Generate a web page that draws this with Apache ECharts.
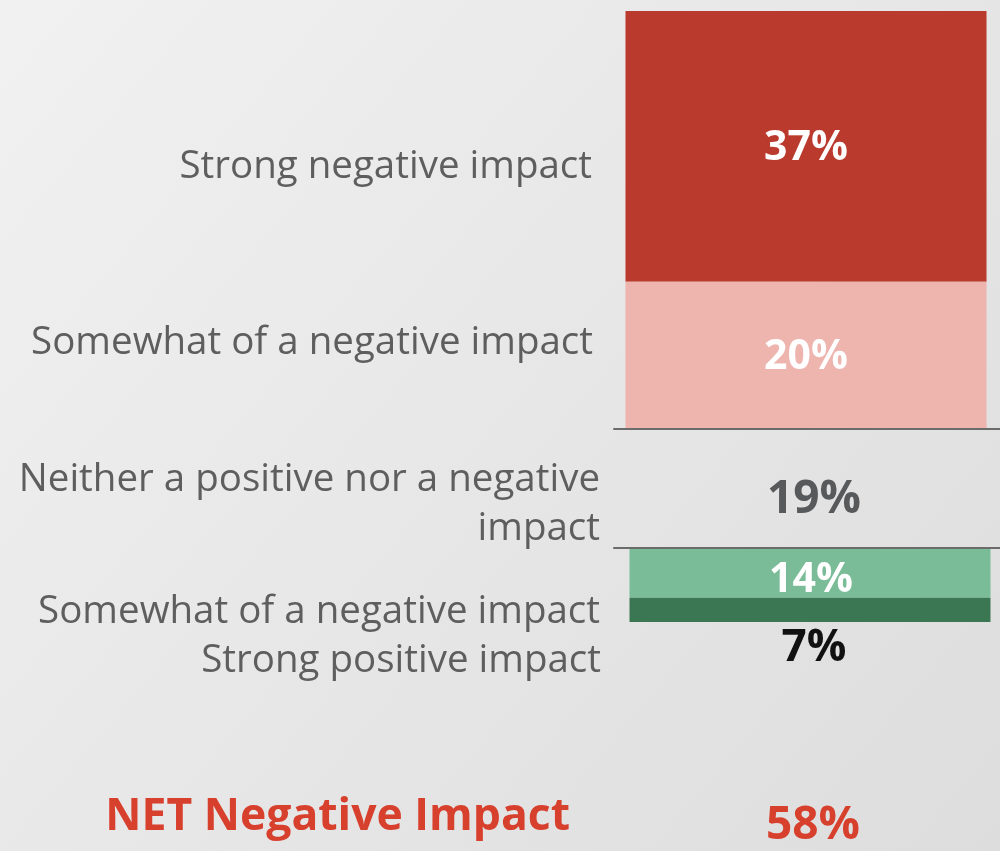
<!DOCTYPE html>
<html>
<head>
<meta charset="utf-8">
<script src="https://cdn.jsdelivr.net/npm/echarts@6/dist/echarts.min.js"></script>
<style>
html,body{margin:0;padding:0;}
#chart{width:1000px;height:851px;}
</style>
</head>
<body>
<div id="chart"></div>
<script>
// ---- data ----
const negativeLabels = ['Strong negative impact', 'Somewhat of a negative impact'];
const negativeValues = [37, 20];
const neutralLabel = 'Neither a positive nor a negative\nimpact';
const neutralValue = 19;
const positiveLabels = ['Somewhat of a negative impact', 'Strong positive impact'];
const positiveValues = [14, 7];
const netLabel = 'NET Negative Impact';
const netValue = 58;

const FONT = '"Open Sans", Lato, sans-serif';
const sum = a => a.reduce((s, v) => s + v, 0);
const pct = p => p.value + '%';

const chart = echarts.init(document.getElementById('chart'));

const catX = (gridIndex, extra) => Object.assign({
  type: 'category', gridIndex, data: [''],
  axisLine: { show: false }, axisTick: { show: false }, axisLabel: { show: false }
}, extra || {});

const LBL = '38.5px ' + FONT;
const sideStyle = (text, extra) => Object.assign({ text, fill: '#5e5e5e', font: LBL, textAlign: 'right', textVerticalAlign: 'middle' }, extra || {});

chart.setOption({
  backgroundColor: {
    type: 'linear', x: 0, y: 0, x2: 1, y2: 1,
    colorStops: [{ offset: 0, color: '#f1f1f1' }, { offset: 1, color: '#dddddd' }]
  },
  animation: false,
  grid: [
    { left: 612, right: 0, top: 11, height: 417 },
    { left: 614, right: 0, top: 429, height: 119 },
    { left: 620, right: 0, top: 549, height: 73 }
  ],
  xAxis: [
    catX(0),
    catX(1, { position: 'bottom', axisLine: { show: true, onZero: false, lineStyle: { color: '#6b6b6b', width: 2 } } }),
    catX(1, { position: 'top', axisLine: { show: true, onZero: false, lineStyle: { color: '#6b6b6b', width: 2 } } }),
    catX(2)
  ],
  yAxis: [
    { type: 'value', gridIndex: 0, inverse: true, min: 0, max: sum(negativeValues), show: false, splitLine: { show: false } },
    { type: 'value', gridIndex: 1, min: 0, max: neutralValue, show: false, splitLine: { show: false } },
    { type: 'value', gridIndex: 2, inverse: true, min: 0, max: sum(positiveValues), show: false, splitLine: { show: false } }
  ],
  series: [
    {
      type: 'bar', name: negativeLabels[0], xAxisIndex: 0, yAxisIndex: 0, stack: 'neg',
      data: [negativeValues[0]], barWidth: 361,
      itemStyle: { color: '#BA3B2D' },
      label: { show: true, position: 'inside', offset: [0, 2], formatter: pct, color: '#ffffff', fontFamily: FONT, fontWeight: 'bold', fontSize: 41 }
    },
    {
      type: 'bar', name: negativeLabels[1], xAxisIndex: 0, yAxisIndex: 0, stack: 'neg',
      data: [negativeValues[1]], barWidth: 361,
      itemStyle: { color: '#EEB4AE' },
      label: { show: true, position: 'inside', offset: [0, 2], formatter: pct, color: '#ffffff', fontFamily: FONT, fontWeight: 'bold', fontSize: 41 }
    },
    {
      type: 'bar', name: 'Neither', xAxisIndex: 1, yAxisIndex: 1,
      data: [neutralValue], barWidth: 361,
      itemStyle: { color: 'rgba(0,0,0,0)' },
      label: { show: true, position: 'inside', offset: [7, 11], formatter: pct, color: '#58595b', fontFamily: FONT, fontWeight: 'bold', fontSize: 46 }
    },
    {
      type: 'bar', name: positiveLabels[0], xAxisIndex: 3, yAxisIndex: 2, stack: 'pos',
      data: [positiveValues[0]], barWidth: 361,
      itemStyle: { color: '#7BBC98' },
      label: { show: true, position: 'inside', offset: [1, 7], formatter: pct, color: '#ffffff', fontFamily: FONT, fontWeight: 'bold', fontSize: 41 }
    },
    {
      type: 'bar', name: positiveLabels[1], xAxisIndex: 3, yAxisIndex: 2, stack: 'pos',
      data: [positiveValues[1]], barWidth: 361,
      itemStyle: { color: '#3B7753' },
      label: { show: true, position: 'bottom', distance: 0, offset: [4, 4], formatter: pct, color: '#111111', fontFamily: FONT, fontWeight: 'bold', fontSize: 44 }
    }
  ],
  graphic: [
    { type: 'text', x: 592, y: 167, style: sideStyle(negativeLabels[0]) },
    { type: 'text', x: 593, y: 343, style: sideStyle(negativeLabels[1]) },
    { type: 'text', x: 600, y: 505, style: sideStyle(neutralLabel, { lineHeight: 49 }) },
    { type: 'text', x: 600, y: 612, style: sideStyle(positiveLabels[0]) },
    { type: 'text', x: 601, y: 661, style: sideStyle(positiveLabels[1]) },
    { type: 'text', x: 570, y: 817, style: { text: netLabel, fill: '#D8402E', font: 'bold 44.5px ' + FONT, textAlign: 'right', textVerticalAlign: 'middle' } },
    { type: 'text', x: 813, y: 826, style: { text: netValue + '%', fill: '#D8402E', font: 'bold 46px ' + FONT, textAlign: 'center', textVerticalAlign: 'middle' } }
  ]
});
</script>
</body>
</html>
